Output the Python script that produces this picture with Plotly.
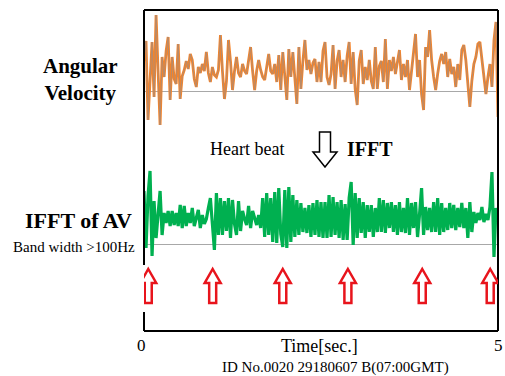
import plotly.graph_objects as go

W, H = 505, 376

# ---- data (units = px above the grey baseline) ----
angular_velocity = [
    30, 50, -29, 10, 49, -6, 76, 20, -34, 34,
    14, 40, 54, -9, 34, 12, 7, 47, -8, 15,
    21, 30, 22, 37, 31, 12, 4, 24, 18, 27,
    20, 39, 18, 9, 24, 16, 14, 21, 56, 20,
    -8, 10, 51, 30, 1, 20, 34, 18, 14, 27,
    20, 17, 30, 44, 20, 1, 20, 31, 21,
    14, 11, 25, 37, 20, 17, 27, 9, 36, 1,
    39, 10, -9, 42, 14, 39, 10, -13, 44, 2,
    30, 51, 21, 31, 17, 28, 32, 9, 29, 9,
    40, 49, 14, 6, 17, 46, 2, 30, 41, 14,
    31, 9, 35, 49, 7, 39, 2, -14, 30, 41,
    7, 24, 11, 31, 10, 2, 44, 2, 25,
    30, 9, 52, 2, 31, 20, 34, 17, 30, 41,
    11, 27, 14, 31, 1, 20, 40, 57, 14, 31,
    -3, -19, 44, 34, 61, 31, 14, 1, 17, 30,
    37, 27, 39, 14, 32, 17, 24, 4, 27, 11,
    41, 46, 31, 10, -16, 10, 27, 34, 47, 49,
    30, 17, -3, 14, 27, 4, 51, 69, -26,
]

ifft_av = [
    53, -4, 48, 73, -12, 43, 6, 33, 53, 9,
    31, 21, 33, 18, 33, 19, 31, 18, 39, 16,
    38, 18, 31, 21, 36, 18, 28, 34, 16, 29,
    20, 25, 36, 46, 20, -6, 51, 9, 46, 9,
    43, 13, 46, 6, 44, 20, 9, 43, 13, 33,
    25, 19, 38, 16, 33, 25, 19, 29, 16,
    46, 7, 51, 9, 46, 2, 52, 1, 56, 10,
    -3, 54, -4, 57, 2, 49, 7, 44, 9, 41,
    12, 36, 11, 39, 7, 41, 9, 44, 7, 42,
    6, 42, 6, 49, 7, 47, 9, 42, 6, 44,
    4, 40, 4, 46, 62, -1, 51, 6, 46, 11,
    42, 6, 39, 12, 39, 7, 36, 12, 46,
    12, 44, 11, 41, 16, 42, 12, 39, 9, 42,
    12, 36, 11, 46, 9, 41, 16, 42, 7, 30,
    56, 9, 37, 14, 36, 12, 42, 12, 46, 9,
    41, 12, 36, 14, 41, 16, 39, 14, 36, 17,
    41, 16, 36, 6, 42, 12, 32, 21, 31, 24,
    37, 22, 30, 24, 37, 72, -13, 36, 22,
]

beat_times = [0.06, 0.97, 1.96, 2.88, 3.93, 4.89]

t_start, t_end = 0, 5
tick_vals = [0, 5]
tick_text = ["0", "5"]

SERIF = "Liberation Serif"


def px(x):
    return x / W


def py(y):
    return 1 - y / H


fig = go.Figure()

dt_av = (t_end - t_start) / (len(angular_velocity) - 1)
dt_if = (t_end - t_start) / (len(ifft_av) - 1)

fig.add_trace(go.Scatter(x0=t_start, dx=dt_av, y=angular_velocity, mode="lines",
                         line=dict(color="#F5842A", width=2.8), xaxis="x", yaxis="y",
                         hoverinfo="skip"))
fig.add_trace(go.Scatter(x0=t_start, dx=dt_av, y=angular_velocity, mode="lines",
                         line=dict(color="#8a8f99", width=0.8), xaxis="x", yaxis="y",
                         opacity=0.75, hoverinfo="skip"))
fig.add_trace(go.Scatter(x0=t_start, dx=dt_if, y=ifft_av, mode="lines",
                         line=dict(color="#00B050", width=3.2), xaxis="x", yaxis="y2",
                         hoverinfo="skip"))

shapes = []
# frame
fc = dict(color="black", width=2)
shapes.append(dict(type="line", xref="paper", yref="paper", x0=px(144), x1=px(498), y0=py(10), y1=py(10), line=fc))
shapes.append(dict(type="line", xref="paper", yref="paper", x0=px(144), x1=px(498), y0=py(331), y1=py(331), line=fc))
shapes.append(dict(type="line", xref="paper", yref="paper", x0=px(498), x1=px(498), y0=py(10), y1=py(331), line=fc))
shapes.append(dict(type="line", xref="paper", yref="paper", x0=px(144), x1=px(144), y0=py(10), y1=py(265), line=fc))
shapes.append(dict(type="line", xref="paper", yref="paper", x0=px(144), x1=px(144), y0=py(312), y1=py(331), line=fc))

# red hollow up-arrows at heart beats (x in data units)
hw = 8 / 354 * 5
sw = 3.5 / 354 * 5
y_tip, y_hb, y_bot = py(269), py(283), py(303)
for t in beat_times:
    path = (f"M {t},{y_tip} L {t + hw},{y_hb} L {t + sw},{y_hb} L {t + sw},{y_bot} "
            f"L {t - sw},{y_bot} L {t - sw},{y_hb} L {t - hw},{y_hb} Z")
    shapes.append(dict(type="path", xref="x", yref="paper", path=path,
                       line=dict(color="#E8141C", width=2.5), fillcolor="white", layer="above"))

# black hollow down-arrow
cx = 325
p = [(cx, 167), (cx + 12, 152), (cx + 5.5, 152), (cx + 5.5, 132), (cx - 5.5, 132), (cx - 5.5, 152), (cx - 12, 152)]
path = "M " + " L ".join(f"{px(a)},{py(b)}" for a, b in p) + " Z"
shapes.append(dict(type="path", xref="paper", yref="paper", path=path,
                   line=dict(color="black", width=1.5), fillcolor="white"))

annotations = [
    dict(text="<b>Angular<br>Velocity</b>", x=px(80), y=py(80), xanchor="center", yanchor="middle",
         font=dict(family=SERIF, size=21, color="black"), align="center"),
    dict(text="<b>IFFT of AV</b>", x=px(78), y=py(220), xanchor="center", yanchor="middle",
         font=dict(family=SERIF, size=22, color="black")),
    dict(text="Band width &gt;100Hz", x=px(74), y=py(247), xanchor="center", yanchor="middle",
         font=dict(family=SERIF, size=15, color="black")),
    dict(text="Heart beat", x=px(247), y=py(149), xanchor="center", yanchor="middle",
         font=dict(family=SERIF, size=18, color="black")),
    dict(text="<b>IFFT</b>", x=px(370), y=py(149), xanchor="center", yanchor="middle",
         font=dict(family=SERIF, size=20, color="black")),
    dict(text="Time[sec.]", x=px(319), y=py(346), xanchor="center", yanchor="middle",
         font=dict(family=SERIF, size=18, color="black")),
    dict(text="ID No.0020 29180607 B(07:00GMT)", x=px(335), y=py(367), xanchor="center", yanchor="middle",
         font=dict(family=SERIF, size=15, color="black")),
]
for a in annotations:
    a.update(xref="paper", yref="paper", showarrow=False)

# time tick labels, placed through the x axis scale
for v, txt in zip(tick_vals, tick_text):
    annotations.append(dict(text=txt, x=v, xref="x", y=py(345), yref="paper",
                            xanchor="center", yanchor="middle", showarrow=False,
                            xshift=-3 if v == t_start else 0,
                            font=dict(family=SERIF, size=17, color="black")))

fig.update_layout(
    width=W, height=H,
    margin=dict(l=0, r=0, t=0, b=0),
    paper_bgcolor="white", plot_bgcolor="rgba(0,0,0,0)",
    showlegend=False,
    shapes=shapes,
    annotations=annotations,
    xaxis=dict(domain=[px(144), px(498)], range=[t_start, t_end], anchor="y",
               showticklabels=False, ticks="", showgrid=False,
               zeroline=False, showline=False),
    yaxis=dict(domain=[py(130), py(11)], range=[-39, 80], anchor="x",
               showgrid=False, showticklabels=False, ticks="", showline=False,
               zeroline=True, zerolinecolor="#a8a8a8", zerolinewidth=1),
    yaxis2=dict(domain=[py(262), py(165)], range=[-18, 79], anchor="x",
                showgrid=False, showticklabels=False, ticks="", showline=False,
                zeroline=True, zerolinecolor="#a8a8a8", zerolinewidth=1),
)

fig.write_html("out.html", config={"displayModeBar": False},
               post_script="document.body.style.margin='0';document.body.style.padding='0';")
